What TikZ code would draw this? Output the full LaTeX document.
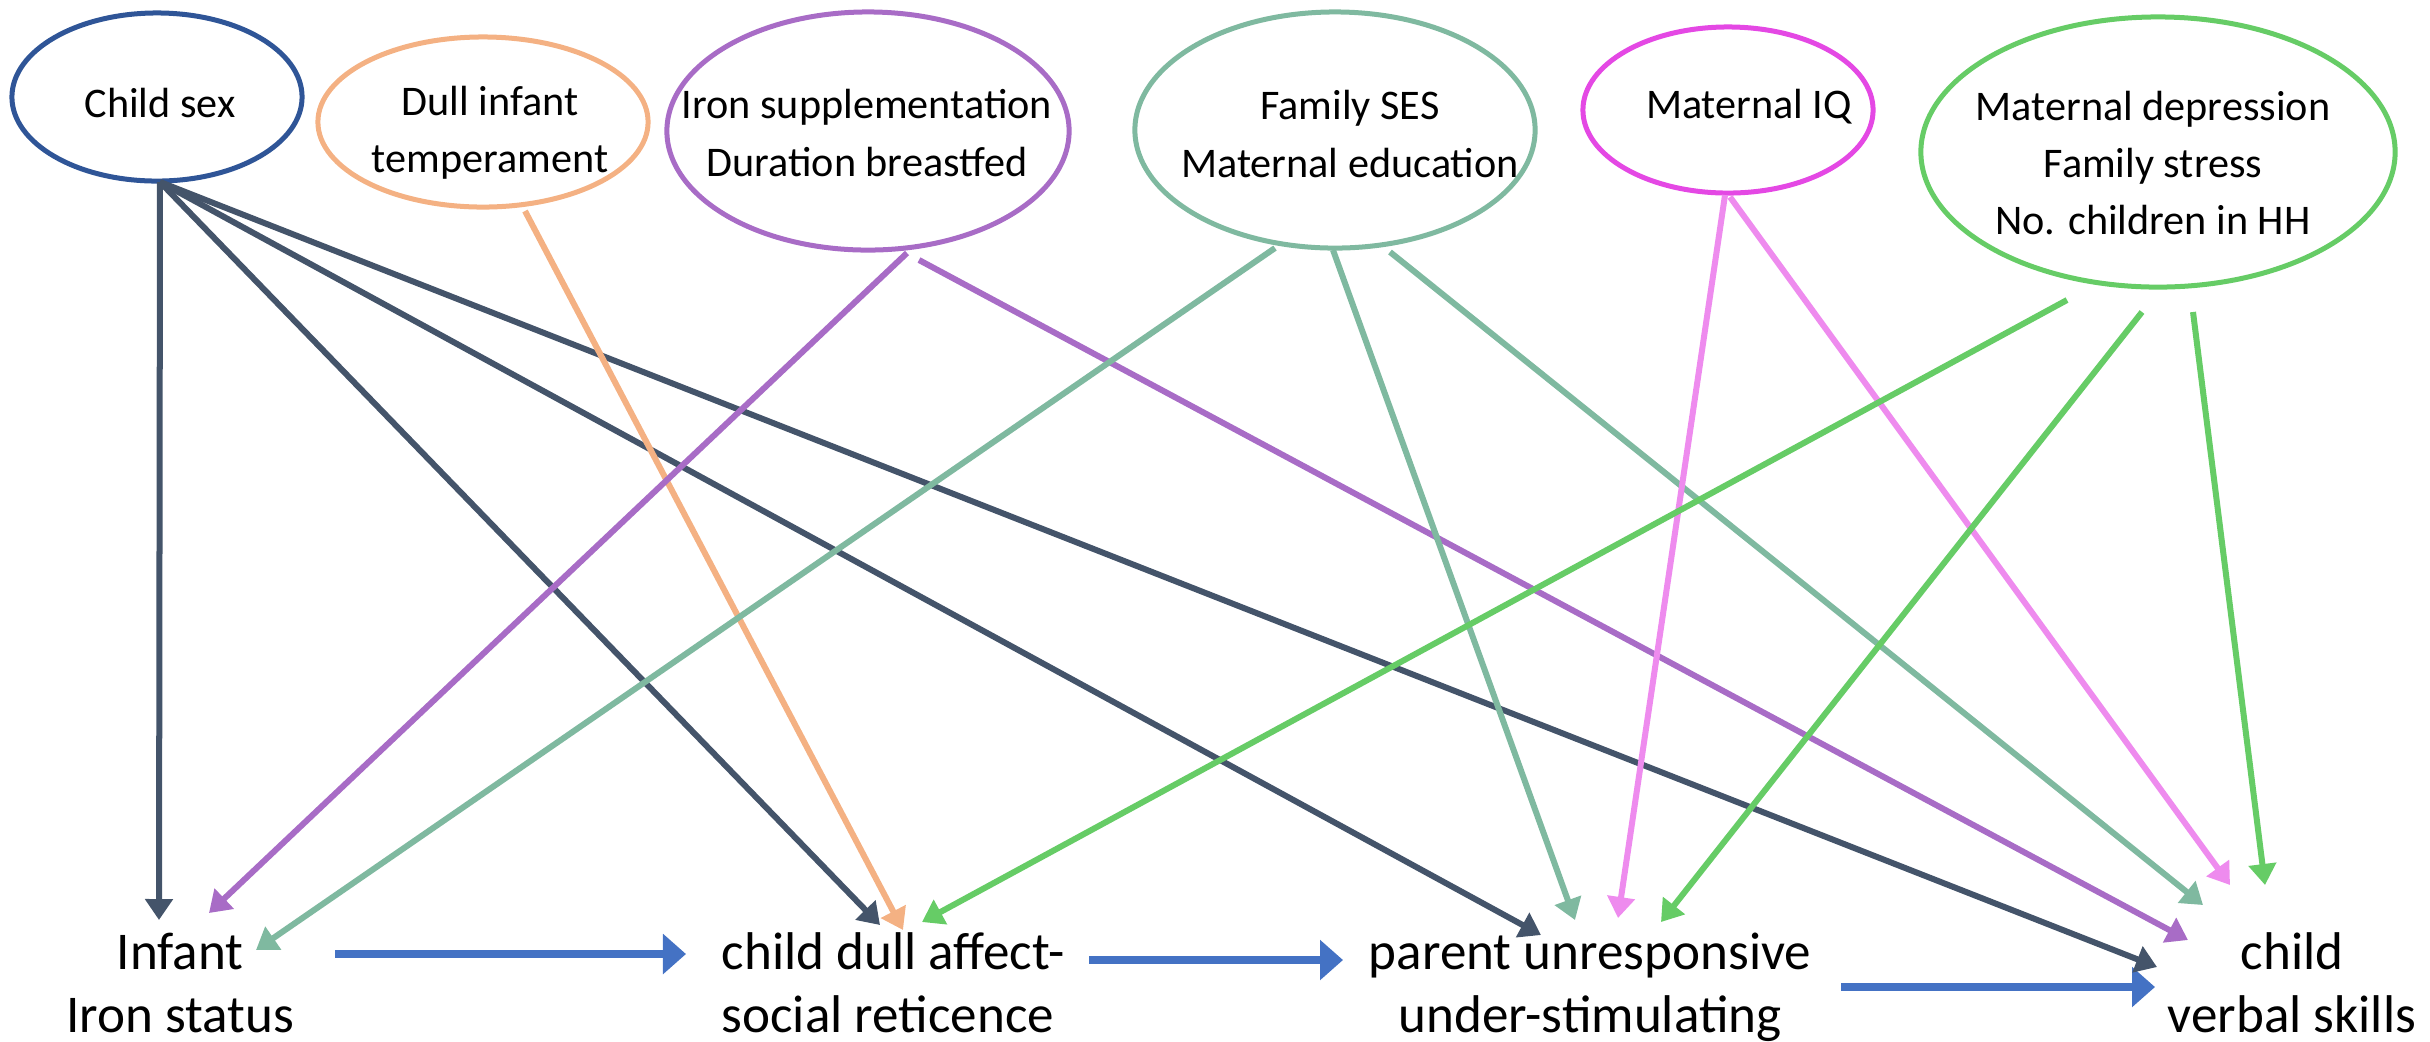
\documentclass[tikz,border=0pt]{standalone}
\usepackage{fontspec}
\setmainfont{Carlito}
\usetikzlibrary{arrows.meta,shapes.geometric}
\definecolor{csblue}{HTML}{2F5597}
\definecolor{slate}{HTML}{44546A}
\definecolor{peach}{HTML}{F4B183}
\definecolor{purp}{HTML}{A86CC6}
\definecolor{teal}{HTML}{7FB9A0}
\definecolor{mag}{HTML}{E448E4}
\definecolor{pinkl}{HTML}{EE8BEE}
\definecolor{grn}{HTML}{66CC66}
\definecolor{blu}{HTML}{4472C4}
\begin{document}
\begin{tikzpicture}[x=0.01cm,y=-0.01cm,
  ell/.style={draw, ellipse, line width=0.05cm, inner sep=0pt},
  toplab/.style={font=\fontsize{12}{16.3}\selectfont, align=center, inner sep=0pt},
  botlab/.style={font=\fontsize{15.1}{17.8}\selectfont, inner sep=0pt, anchor=base},
  conn/.style={line width=0.06cm, -{Triangle[width=0.27cm,length=0.21cm]}},
  main/.style={draw=blu, line width=0.08cm, -{Triangle[width=0.39cm,length=0.23cm]}}]
\useasboundingbox (0,0) rectangle (2430,1041);
% ellipses
\node[ell, draw=csblue, minimum width=2.9cm, minimum height=1.68cm] (cs) at (157,97) {};
\node[ell, draw=peach, minimum width=3.3cm, minimum height=1.7cm] (dit) at (483,122) {};
\node[ell, draw=purp, minimum width=4.02cm, minimum height=2.38cm] (iron) at (868,131) {};
\node[ell, draw=teal, minimum width=4.0cm, minimum height=2.36cm] (ses) at (1335,130) {};
\node[ell, draw=mag, minimum width=2.9cm, minimum height=1.66cm] (miq) at (1728,110) {};
\node[ell, draw=grn, minimum width=4.74cm, minimum height=2.7cm] (mdep) at (2158,152) {};
% top labels
\node[toplab] (cst) at (160,103) {Child sex};
\node[toplab] (ditt) at (490,133) {Dull infant\\temperament};
\node[toplab] (iront) at (867,133) {Iron supplementation\\Duration breastfed};
\node[toplab] (sest) at (1350,134) {Family SES\\Maternal education};
\node[toplab] (miqt) at (1749,107) {Maternal IQ};
\node[toplab] (mdept) at (2153,163) {Maternal depression\\Family stress\\No. children in HH};
% bottom labels
\node[botlab, align=center] (inf) at (180,1032) {Infant\\Iron status};
\node[botlab, align=left, anchor=base west] (cda) at (721,1032) {child dull affect-\\social reticence};
\node[botlab, align=center] (pur) at (1590,1032) {parent unresponsive\\under-stimulating};
\node[botlab, align=center] (cvs) at (2292,1032) {child\\verbal skills};
% connector end points
\coordinate (csS) at (160,182);
\coordinate (ditS) at (525,211);
\coordinate (ironS1) at (907,253);
\coordinate (ironS2) at (919,260);
\coordinate (sesS1) at (1275,248);
\coordinate (sesS2) at (1333,250);
\coordinate (sesS3) at (1390,252);
\coordinate (miqS1) at (1725,195);
\coordinate (miqS2) at (1730,197);
\coordinate (mdepS1) at (2067,300);
\coordinate (mdepS2) at (2142,312);
\coordinate (mdepS3) at (2193,312);
\coordinate (infA) at (159,920);
\coordinate (infB) at (209,913);
\coordinate (infC) at (256,950);
\coordinate (cdaA) at (880,925);
\coordinate (cdaB) at (903,930);
\coordinate (cdaC) at (922,922);
\coordinate (purA) at (1541,935);
\coordinate (purB) at (1575,920);
\coordinate (purC) at (1618,918);
\coordinate (purD) at (1661,922);
\coordinate (cvsA) at (2157,967);
\coordinate (cvsB) at (2188,940);
\coordinate (cvsC) at (2203,905);
\coordinate (cvsD) at (2230,885);
\coordinate (cvsE) at (2265,885);
% blue main chain
\coordinate (m1s) at (335,954);
\coordinate (m1e) at (686,954);
\coordinate (m2s) at (1089,960);
\coordinate (m2e) at (1343,960);
\coordinate (m3s) at (1841,987);
\coordinate (m3e) at (2155,987);
\draw[main] (m1s) -- (m1e);
\draw[main] (m2s) -- (m2e);
\draw[main] (m3s) -- (m3e);
% child sex
\draw[conn, draw=slate, fill=slate] (csS) -- (infA);
\draw[conn, draw=slate] (csS) -- (cdaA);
\draw[conn, draw=slate] (csS) -- (purA);
\draw[conn, draw=slate] (csS) -- (cvsA);
% dull infant temperament
\draw[conn, draw=peach] (ditS) -- (cdaB);
% iron
\draw[conn, draw=purp] (ironS1) -- (infB);
\draw[conn, draw=purp] (ironS2) -- (cvsB);
% SES
\draw[conn, draw=teal] (sesS1) -- (infC);
\draw[conn, draw=teal] (sesS2) -- (purB);
\draw[conn, draw=teal] (sesS3) -- (cvsC);
% maternal IQ
\draw[conn, draw=pinkl] (miqS1) -- (purC);
\draw[conn, draw=pinkl] (miqS2) -- (cvsD);
% maternal depression
\draw[conn, draw=grn] (mdepS1) -- (cdaC);
\draw[conn, draw=grn] (mdepS2) -- (purD);
\draw[conn, draw=grn] (mdepS3) -- (cvsE);
\end{tikzpicture}
\end{document}
